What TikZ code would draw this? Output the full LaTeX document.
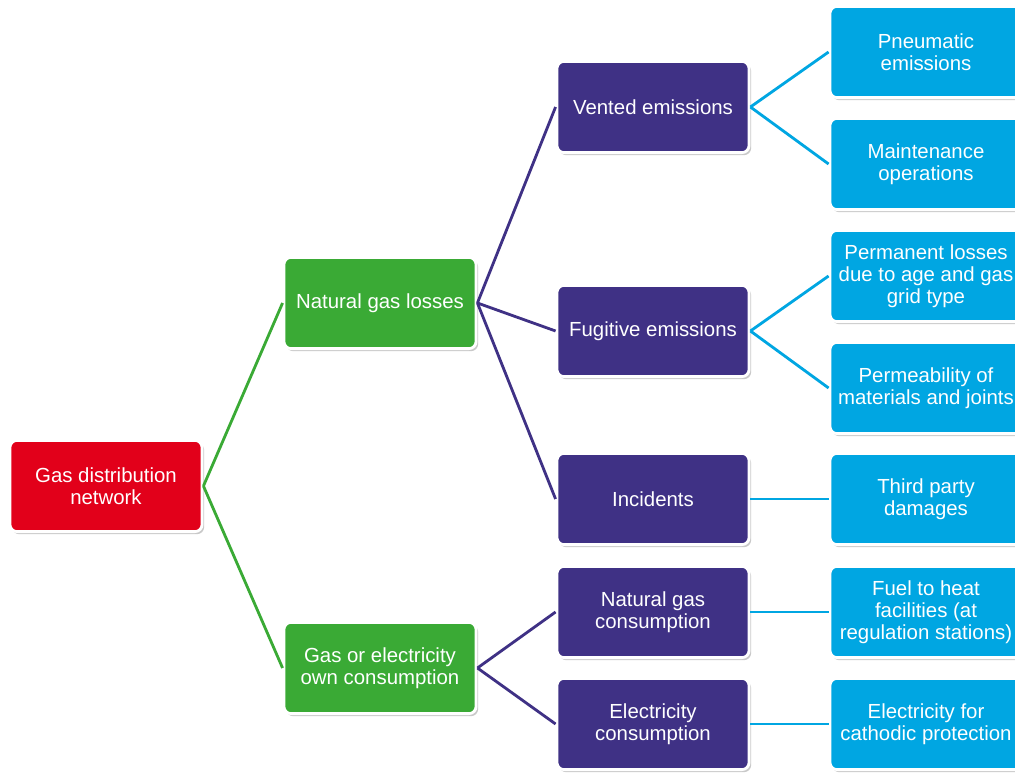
\documentclass[tikz,border=0pt]{standalone}
\usepackage{fontspec}
\setmainfont{Liberation Sans}
\usetikzlibrary{shadows}
\definecolor{craiz}{HTML}{E2001A}
\definecolor{cverde}{HTML}{3AAA35}
\definecolor{cmorado}{HTML}{3F3185}
\definecolor{ccian}{HTML}{00A6E2}
\tikzset{
  caja/.style={draw=white,line width=2pt,rounded corners=5pt,align=center,
               text=white,font=\fontsize{14.5}{15.6}\selectfont,
               minimum width=4.8cm,minimum height=2.28cm,inner sep=1pt,
               drop shadow={shadow xshift=1.5pt,shadow yshift=-1.8pt,opacity=0.35,fill=black!60}},
  cajar/.style={caja,fill=craiz},
  cajav/.style={caja,fill=cverde},
  cajam/.style={caja,fill=cmorado},
  cajac/.style={caja,fill=ccian},
  lineav/.style={draw=cverde,line width=2pt},
  lineam/.style={draw=cmorado,line width=2pt},
  lineac/.style={draw=ccian,line width=2pt},
}
\begin{document}
\begin{tikzpicture}[x=0.025cm,y=-0.025cm]
\useasboundingbox[fill=white] (0,0) rectangle (1015,773);

\node[cajar] (red)  at (106,486) {Gas distribution\\network};

\node[cajav] (perd) at (380,303) {Natural gas losses};
\node[cajav] (cons) at (380,668) {Gas or electricity\\own consumption};

\node[cajam] (vent) at (653,107) {Vented emissions};
\node[cajam] (fug)  at (653,331) {Fugitive emissions};
\node[cajam] (inc)  at (653,499) {Incidents};
\node[cajam] (cgas) at (653,612) {Natural gas\\consumption};
\node[cajam] (celec) at (653,724) {Electricity\\consumption};

\node[cajac] (neum) at (926,52)  {Pneumatic\\emissions};
\node[cajac] (mant) at (926,164) {Maintenance\\operations};
\node[cajac] (perm) at (926,276) {Permanent losses\\due to age and gas\\grid type};
\node[cajac] (pmb)  at (926,388) {Permeability of\\materials and joints};
\node[cajac] (dan)  at (926,499) {Third party\\damages};
\node[cajac] (comb) at (926,612) {Fuel to heat\\facilities (at\\regulation stations)};
\node[cajac] (prot) at (926,724) {Electricity for\\cathodic protection};

\draw[lineav] (red.east) -- (perd.west);
\draw[lineav] (red.east) -- (cons.west);

\draw[lineam] (perd.east) -- (vent.west);
\draw[lineam] (perd.east) -- (fug.west);
\draw[lineam] (perd.east) -- (inc.west);
\draw[lineam] (cons.east) -- (cgas.west);
\draw[lineam] (cons.east) -- (celec.west);

\draw[lineac] (vent.east) -- (neum.west);
\draw[lineac] (vent.east) -- (mant.west);
\draw[lineac] (fug.east) -- (perm.west);
\draw[lineac] (fug.east) -- (pmb.west);
\draw[lineac] (inc.east) -- (dan.west);
\draw[lineac] (cgas.east) -- (comb.west);
\draw[lineac] (celec.east) -- (prot.west);

\end{tikzpicture}
\end{document}
